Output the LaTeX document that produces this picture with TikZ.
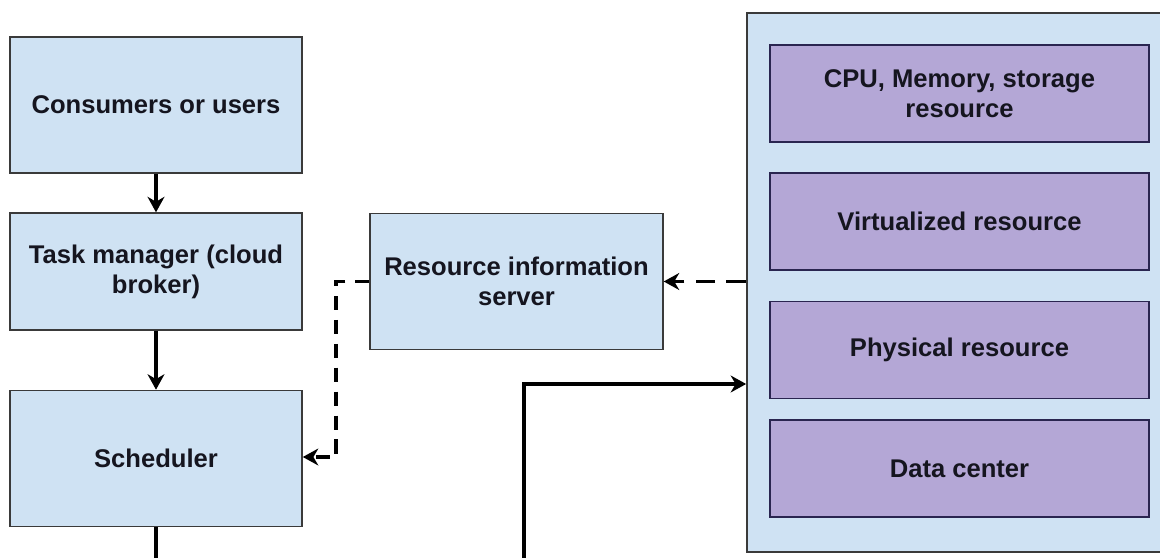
\documentclass[tikz,border=0pt]{standalone}
\usepackage{fontspec}
\setmainfont{Liberation Sans}
\usetikzlibrary{arrows.meta}
\definecolor{boxblue}{HTML}{CFE2F3}
\definecolor{boxpurple}{HTML}{B4A7D6}
\definecolor{edgegray}{HTML}{3A3A3A}
\definecolor{edgenavy}{HTML}{2A2550}
\definecolor{inkdark}{HTML}{15151F}
\begin{document}
\begin{tikzpicture}[x=0.025cm, y=-0.025cm,
      every node/.style={font=\fontsize{18.2}{21.5}\selectfont\bfseries, text=inkdark, align=center, inner sep=0pt},
      bluebox/.style={draw=edgegray, line width=1.1pt, fill=boxblue, minimum width=7.3cm, minimum height=3.4cm},
      purplebox/.style={draw=edgenavy, line width=1.1pt, fill=boxpurple, minimum width=9.48cm, minimum height=2.42cm},
      link/.style={line width=2.8pt, -{Stealth[length=11pt, width=12pt, inset=3.5pt]}}
    ]
    \useasboundingbox (0,0) rectangle (1160,558);
    
    % left column
    \node[bluebox] (cons) at (156,105) {Consumers or users};
    \node[bluebox, minimum height=2.92cm] (task) at (156,271.5) {Task manager (cloud\\broker)};
    \node[bluebox] (sched) at (156,458.5) {Scheduler};
    
    % middle
    \node[bluebox, minimum width=7.32cm] (ris) at (516.5,281.5) {Resource information\\server};
    
    % resource pool (runs off the right edge)
    \node[bluebox, minimum width=10.8cm, minimum height=13.48cm] (pool) at (963,282.5) {};
    \node[purplebox] (cpu) at (959.5,93.5) {CPU, Memory, storage\\resource};
    \node[purplebox] (virt) at (959.5,221.5) {Virtualized resource};
    \node[purplebox] (phys) at (959.5,350) {Physical resource};
    \node[purplebox] (dc) at (959.5,468.5) {Data center};
    
    \coordinate (out1) at (156,570);
    \coordinate (out2) at (524,570);
    
    \draw[link] (cons) -- (task);
    \draw[link] (task) -- (sched);
    \draw[line width=2.8pt] (sched) -- (out1);
    
    \draw[link, dash pattern=on 14pt off 8pt] (pool.west |- ris.east) -- (ris.east);
    \draw[link, dash pattern=on 10pt off 7pt] (ris.west) -- (336,281.5) |- (sched.east |- 0,457);
    \draw[link] (out2) |- (pool.west |- 0,384);
    
    \end{tikzpicture}
\end{document}
